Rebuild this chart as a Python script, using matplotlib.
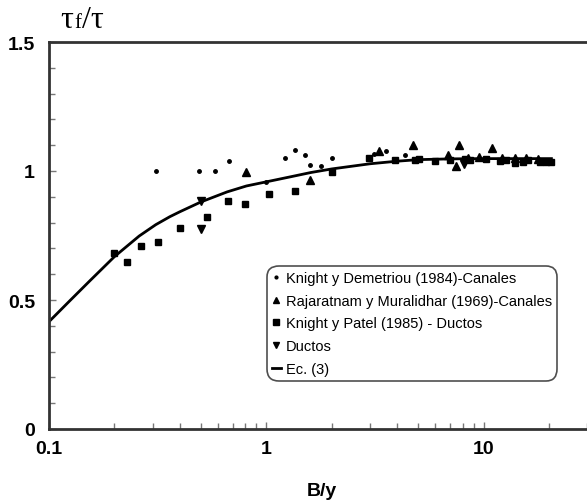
import numpy as np
import matplotlib.pyplot as plt
from matplotlib.ticker import FixedLocator, NullFormatter

plt.rcParams['font.family'] = 'Liberation Sans'

# Knight y Demetriou (1984) - Canales
kd_x = [0.31, 0.49, 0.58, 0.675, 1.0, 1.22, 1.35, 1.50, 1.58, 1.79, 2.01, 3.12, 3.55, 4.35]
kd_y = [1.0, 1.0, 1.0, 1.04, 0.956, 1.049, 1.083, 1.063, 1.022, 1.021, 1.05, 1.066, 1.076, 1.062]

# Rajaratnam y Muralidhar (1969) - Canales
rm_x = [0.81, 1.58, 3.29, 4.73, 6.85, 7.43, 7.68, 8.5, 9.5, 10.96, 12.2, 13.9, 15.6, 17.8]
rm_y = [0.996, 0.967, 1.077, 1.10, 1.062, 1.018, 1.10, 1.05, 1.055, 1.09, 1.05, 1.05, 1.05, 1.045]

# Knight y Patel (1985) - Ductos
kp_x = [0.199, 0.229, 0.264, 0.318, 0.399, 0.534, 0.663, 0.799, 1.03, 1.36, 2.01, 2.97,
        3.90, 4.82, 5.04, 6.0, 7.03, 8.2, 8.69, 10.2, 11.9, 12.7, 14.0, 15.2, 16.0, 18.1,
        19.4, 20.5]
kp_y = [0.682, 0.647, 0.711, 0.725, 0.778, 0.823, 0.883, 0.872, 0.912, 0.921, 0.996, 1.052,
        1.044, 1.042, 1.047, 1.037, 1.042, 1.048, 1.042, 1.045, 1.038, 1.042, 1.03, 1.036,
        1.042, 1.036, 1.036, 1.036]

# Ductos
du_x = [0.5, 0.5, 8.12]
du_y = [0.885, 0.775, 1.027]

# Ec. (3)
ec_x = [0.1, 0.125, 0.154, 0.2, 0.26, 0.31, 0.36, 0.4, 0.5, 0.66, 0.81, 1.0, 1.3, 1.6,
        2.0, 3.0, 4.0, 5.0, 7.0, 10, 20.5]
ec_y = [0.416, 0.498, 0.574, 0.668, 0.748, 0.792, 0.823, 0.842, 0.880, 0.919, 0.942, 0.958,
        0.978, 0.994, 1.008, 1.028, 1.038, 1.044, 1.047, 1.048, 1.048]

x_ticks = [0.1, 1, 10]
x_labels = ['0.1', '1', '10']
y_ticks = [0, 0.5, 1, 1.5]
y_labels = ['0', '0.5', '1', '1.5']

W, H = 587, 502
fig = plt.figure(figsize=(W / 100, H / 100), dpi=100)
# axes run to B/y = 100, past the right edge of the picture
ax = fig.add_axes([49 / W, 72 / H, 652 / W, 387 / H])

ax.plot(kd_x, kd_y, 'o', color='k', ms=2.5, label='Knight y Demetriou (1984)-Canales')
ax.plot(rm_x, rm_y, '^', color='k', ms=5.5, label='Rajaratnam y Muralidhar (1969)-Canales')
ax.plot(kp_x, kp_y, 's', color='k', ms=5, label='Knight y Patel (1985) - Ductos')
ax.plot(du_x, du_y, 'v', color='k', ms=5.5, label='Ductos')
ax.plot(ec_x, ec_y, '-', color='k', lw=2, label='Ec. (3)')

ax.set_xscale('log')
ax.set_xlim(0.1, 100)
ax.set_ylim(0, 1.5)
ax.xaxis.set_major_locator(FixedLocator(x_ticks))
ax.set_xticklabels(x_labels)
ax.xaxis.set_minor_locator(FixedLocator([m * 10.0 ** e for e in (-1, 0, 1) for m in range(2, 10)]))
ax.xaxis.set_minor_formatter(NullFormatter())
ax.set_yticks(y_ticks)
ax.set_yticklabels(y_labels)
ax.yaxis.set_minor_locator(FixedLocator(np.arange(0, 1.51, 0.1)))

for s in ax.spines.values():
    s.set_linewidth(2)
    s.set_color('#333333')
ax.tick_params(which='both', direction='in', color='#777777', width=1)
ax.tick_params(which='major', length=5, labelsize=14, pad=8)
ax.tick_params(which='minor', length=4)
for lab in ax.get_xticklabels() + ax.get_yticklabels():
    lab.set_fontweight('bold')
ax.tick_params(axis='y', pad=10)

fig.text(322 / W, 1 - 492 / H, 'B/y', ha='center', va='center', fontsize=14, fontweight='bold')

# y label  tau_f / tau
fig.text(60 / W, 1 - 28 / H, '\u03c4', fontsize=23, family='Liberation Serif', va='baseline')
fig.text(74 / W, 1 - 28 / H, 'f', fontsize=15, family='Liberation Serif', va='baseline')
fig.text(82 / W, 1 - 28 / H, '/\u03c4', fontsize=23, family='Liberation Serif', va='baseline')

leg = ax.legend(loc='lower left', bbox_to_anchor=(267 / W, 1 - 382 / H), bbox_transform=fig.transFigure,
                fontsize=10.5, frameon=True, fancybox=True, edgecolor='#222222',
                handlelength=0.6, handletextpad=0.35, borderpad=0.35, labelspacing=0.6,
                borderaxespad=0, markerscale=0.8)
leg.get_frame().set_linewidth(1.2)
leg.get_frame().set_boxstyle('round', pad=0.0, rounding_size=0.8)

fig.savefig('out.png', dpi=100)
